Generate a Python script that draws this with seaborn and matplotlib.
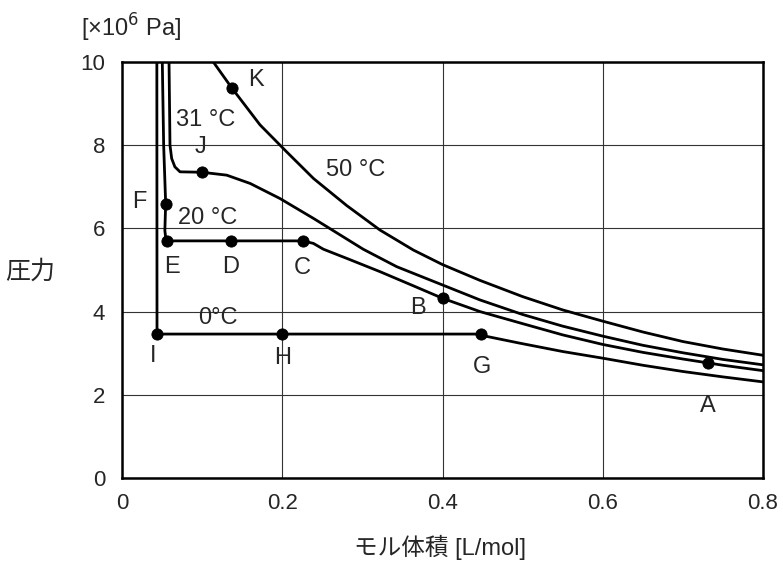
import pandas as pd
import matplotlib
matplotlib.use("Agg")
import matplotlib.pyplot as plt
import seaborn as sns
from matplotlib.ticker import MultipleLocator

# isotherm data (molar volume [L/mol], pressure [x10^6 Pa])
v0 = [0.0435, 0.0437, 0.2, 0.448, 0.456, 0.4967, 0.55, 0.6, 0.65, 0.7, 0.75, 0.8]
p0 = [10.0, 3.46, 3.46, 3.46, 3.40, 3.24, 3.04, 2.88, 2.71, 2.56, 2.43, 2.31]

v20 = [0.0503, 0.052, 0.0545, 0.0535, 0.0545, 0.0558, 0.136, 0.2255, 0.2388,
       0.2513, 0.2804, 0.322, 0.3636, 0.40, 0.4468, 0.5, 0.55, 0.6, 0.65,
       0.7, 0.75, 0.8]
p20 = [10.0, 8.0, 6.6, 5.95, 5.78, 5.70, 5.70, 5.70, 5.64,
       5.50, 5.28, 4.96, 4.62, 4.32, 4.0, 3.71, 3.44, 3.21, 3.02,
       2.86, 2.71, 2.58]

v31 = [0.0587, 0.0593, 0.0599, 0.062, 0.066, 0.0724, 0.0995, 0.1307, 0.16,
       0.197, 0.239, 0.301, 0.3428, 0.40, 0.4468, 0.5, 0.55, 0.6, 0.65,
       0.7, 0.75, 0.8]
p31 = [10.0, 9.0, 8.0, 7.68, 7.48, 7.36, 7.35, 7.28, 7.08,
       6.72, 6.24, 5.50, 5.08, 4.64, 4.28, 3.93, 3.65, 3.41, 3.19,
       3.01, 2.85, 2.72]

v50 = [0.114, 0.1369, 0.1722, 0.2055, 0.239, 0.2804, 0.322, 0.3636, 0.40,
       0.4468, 0.5, 0.55, 0.6, 0.65, 0.7, 0.75, 0.8]
p50 = [10.0, 9.38, 8.49, 7.84, 7.20, 6.55, 5.96, 5.48, 5.13,
       4.75, 4.36, 4.04, 3.77, 3.51, 3.28, 3.10, 2.95]

# labelled states
pt_names = ["A", "B", "C", "D", "E", "F", "G", "H", "I", "J", "K"]
pt_v = [0.731, 0.4, 0.2255, 0.136, 0.0558, 0.0545, 0.448, 0.2, 0.0437, 0.0995, 0.1369]
pt_p = [2.76, 4.32, 5.70, 5.70, 5.70, 6.59, 3.46, 3.46, 3.46, 7.35, 9.38]
# label positions for each point
lab_v = [0.731, 0.369, 0.2246, 0.136, 0.0624, 0.0212, 0.449, 0.2, 0.039, 0.0986, 0.167]
lab_p = [1.73, 4.09, 5.05, 5.07, 5.07, 6.63, 2.66, 2.88, 2.93, 7.96, 9.57]

temp_names = ["0°C", "20 °C", "31 °C", "50 °C"]
temp_v = [0.12, 0.107, 0.104, 0.291]
temp_p = [3.85, 6.25, 8.61, 7.40]

curves = pd.concat([
    pd.DataFrame({"v": v0, "p": p0, "T": "0"}),
    pd.DataFrame({"v": v20, "p": p20, "T": "20"}),
    pd.DataFrame({"v": v31, "p": p31, "T": "31"}),
    pd.DataFrame({"v": v50, "p": p50, "T": "50"}),
])
points = pd.DataFrame({"v": pt_v, "p": pt_p})

sns.set_style("white")
plt.rcParams['font.family'] = ['Liberation Sans', 'Noto Sans CJK JP', 'DejaVu Sans']

fig = plt.figure(figsize=(7.83, 5.71), dpi=100)
ax = fig.add_axes([0.1558, 0.1629, 0.8187, 0.7285])

ax.grid(True, which="major", color="#333333", linewidth=0.8)
ax.set_axisbelow(True)

sns.lineplot(data=curves, x="v", y="p", units="T", estimator=None, sort=False,
             color="black", linewidth=2.0, ax=ax, legend=False)
sns.scatterplot(data=points, x="v", y="p", color="black", s=65,
                edgecolor="black", zorder=5, ax=ax, legend=False)

for name, x, y in zip(pt_names, lab_v, lab_p):
    ax.text(x, y, name, ha="center", va="center", fontsize=17)
for name, x, y in zip(temp_names, temp_v, temp_p):
    ax.text(x, y, name, ha="center", va="center", fontsize=17)

ax.set_xlim(0, 0.8)
ax.set_ylim(0, 10)
ax.xaxis.set_major_locator(MultipleLocator(0.2))
ax.xaxis.set_minor_locator(MultipleLocator(0.05))
ax.yaxis.set_major_locator(MultipleLocator(2))
ax.yaxis.set_minor_locator(MultipleLocator(0.5))
ax.set_xticks([0, 0.2, 0.4, 0.6, 0.8], ["0", "0.2", "0.4", "0.6", "0.8"])
ax.tick_params(axis="both", which="both", direction="in", top=False, right=False,
               labelsize=16, width=1.2, color="black")
ax.tick_params(axis="both", which="major", length=6)
ax.tick_params(axis="both", which="minor", length=5)
ax.tick_params(axis="x", pad=11)
ax.tick_params(axis="y", pad=12)

for s in ax.spines.values():
    s.set_color("black")
    s.set_linewidth(1.8)

ax.set_xlabel("モル体積 [L/mol]", fontsize=17, va="center")
ax.xaxis.set_label_coords(0.496, -0.168)
ax.set_ylabel("圧力", fontsize=18, rotation=0, va="center", ha="center")
ax.yaxis.set_label_coords(-0.1435, 0.495)
ax.text(0.014, 1.082, "[×10$^6$ Pa]", transform=ax.transAxes, ha="center",
        va="center", fontsize=17)

fig.savefig("out.png", dpi=100)
